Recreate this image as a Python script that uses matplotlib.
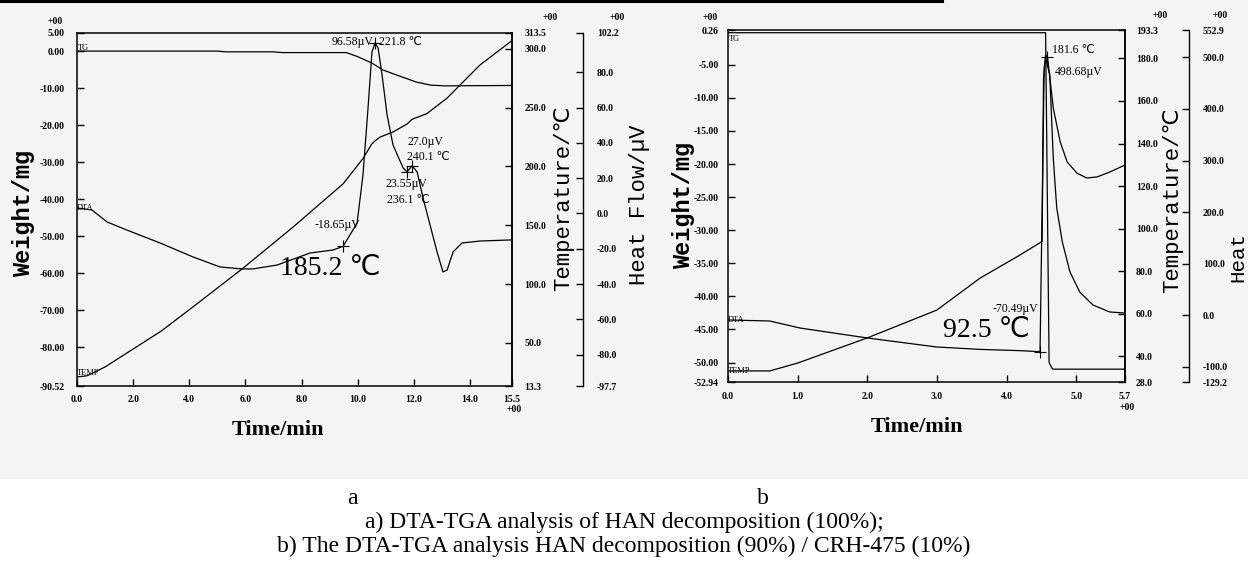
import matplotlib
matplotlib.use("Agg")
import matplotlib.pyplot as plt
from matplotlib.patches import Rectangle
from matplotlib.lines import Line2D

W, H = 1248, 574

# ---------------- panel a : HAN (100%) ----------------
a_time_ticks = [0, 2, 4, 6, 8, 10, 12, 14, 15.5]
a_time_labels = ["0.0", "2.0", "4.0", "6.0", "8.0", "10.0", "12.0", "14.0", "15.5"]
a_weight_ticks = [5, 0, -10, -20, -30, -40, -50, -60, -70, -80, -90.52]
a_weight_labels = ["5.00", "0.00", "-10.00", "-20.00", "-30.00", "-40.00", "-50.00",
                   "-60.00", "-70.00", "-80.00", "-90.52"]
a_temp_ticks = [313.5, 300, 250, 200, 150, 100, 50, 13.3]
a_temp_labels = ["313.5", "300.0", "250.0", "200.0", "150.0", "100.0", "50.0", "13.3"]
a_heat_ticks = [102.2, 80, 60, 40, 20, 0, -20, -40, -60, -80, -97.7]
a_heat_labels = ["102.2", "80.0", "60.0", "40.0", "20.0", "0.0", "-20.0", "-40.0",
                 "-60.0", "-80.0", "-97.7"]

a_tg_t = [0, 5.0, 5.3, 7.0, 7.3, 9.6, 10.0, 10.5, 10.9, 11.4, 12.1, 12.6, 13.1, 15.5]
a_tg_w = [0.1, 0.1, -0.1, -0.1, -0.3, -0.3, -1.4, -3.1, -5.0, -6.4, -8.3, -9.1, -9.3, -9.2]

a_temp_t = [0, 0.36, 1.0, 1.78, 3.0, 4.13, 5.88, 7.70, 9.48, 10.2, 10.5, 10.62, 10.8,
            11.26, 11.76, 11.94, 12.47, 13.19, 13.65, 14.36, 15.43, 15.5]
a_temp_v = [21.0, 22.0, 29.5, 41.4, 60.0, 80.5, 112.8, 148.5, 185.2, 207.0, 219.0, 221.8,
            225.0, 229.3, 236.1, 240.1, 245.0, 258.2, 269.3, 286.3, 305.8, 307.0]

a_dta_t = [0, 0.53, 1.07, 1.78, 2.96, 4.13, 5.10, 5.88, 6.27, 7.13, 8.30, 9.12, 9.48,
           9.98, 10.19, 10.37, 10.51, 10.62, 10.73, 10.87, 11.05, 11.26, 11.62, 11.76,
           11.94, 12.12, 12.33, 12.58, 12.83, 13.04, 13.19, 13.40, 13.72, 14.36, 15.43, 15.5]
a_dta_v = [3.1, 2.0, -4.8, -9.4, -16.7, -24.6, -30.3, -31.4, -31.4, -29.2, -22.4, -20.7,
           -18.65, -5.4, 21.8, 59.7, 91.4, 96.58, 93.7, 78.4, 55.8, 38.8, 25.8, 23.55,
           27.0, 23.5, 8.8, -6.5, -21.8, -33.1, -32.0, -21.8, -16.7, -15.6, -15.0, -15.0]

# ---------------- panel b : HAN (90%) / CRH-475 (10%) ----------------
b_time_ticks = [0, 1, 2, 3, 4, 5, 5.7]
b_time_labels = ["0.0", "1.0", "2.0", "3.0", "4.0", "5.0", "5.7"]
b_weight_ticks = [0.26, -5, -10, -15, -20, -25, -30, -35, -40, -45, -50, -52.94]
b_weight_labels = ["0.26", "-5.00", "-10.00", "-15.00", "-20.00", "-25.00", "-30.00",
                   "-35.00", "-40.00", "-45.00", "-50.00", "-52.94"]
b_temp_ticks = [193.3, 180, 160, 140, 120, 100, 80, 60, 40, 28.0]
b_temp_labels = ["193.3", "180.0", "160.0", "140.0", "120.0", "100.0", "80.0", "60.0",
                 "40.0", "28.0"]
b_heat_ticks = [552.9, 500, 400, 300, 200, 100, 0, -100, -129.2]
b_heat_labels = ["552.9", "500.0", "400.0", "300.0", "200.0", "100.0", "0.0", "-100.0",
                 "-129.2"]

b_tg_t = [0, 4.56, 4.59, 4.61, 4.66, 5.7]
b_tg_w = [-0.15, -0.15, -30.0, -50.0, -51.0, -51.0]

b_temp_t = [0, 0.6, 1.0, 2.0, 3.0, 3.62, 4.19, 4.51, 4.53, 4.56, 4.59, 4.67, 4.77, 4.87,
            5.01, 5.15, 5.30, 5.48, 5.70]
b_temp_v = [33.2, 33.2, 36.9, 48.7, 61.8, 76.8, 87.6, 94.0, 170.0, 181.6, 180.0, 156.7,
            140.7, 131.3, 126.1, 123.8, 124.3, 126.6, 129.9]

b_dta_t = [0, 0.6, 1.03, 2.0, 3.0, 3.62, 4.2, 4.48, 4.52, 4.54, 4.56, 4.62, 4.67, 4.72,
           4.80, 4.91, 5.05, 5.24, 5.48, 5.70]
b_dta_v = [-9.0, -11.0, -24.5, -43.9, -61.4, -66.0, -68.5, -70.49, 300.0, 480.0, 498.68,
           465.8, 304.9, 208.0, 142.1, 84.0, 45.2, 20.0, 6.5, 4.5]

caption_1 = "a) DTA-TGA analysis of HAN decomposition (100%);"
caption_2 = "b) The DTA-TGA analysis HAN decomposition (90%) / CRH-475 (10%)"


def fx(x):
    return x / W


def fy(y):
    return 1 - y / H


tick_font = {"family": "Liberation Serif", "weight": "bold", "size": 7}
note_font = {"family": ["Liberation Serif", "DejaVu Sans"], "size": 8.5}
big_font = {"family": ["Liberation Serif", "DejaVu Sans"], "size": 20}
mono = ["Liberation Mono", "DejaVu Sans"]

fig = plt.figure(figsize=(W / 100, H / 100), dpi=100)
fig.patch.set_facecolor("white")
# greyish scanned area and the black rule across the top
fig.patches.append(Rectangle((0, fy(478)), 1, 1 - fy(478), transform=fig.transFigure,
                             color="#f4f4f4", zorder=-10))
fig.lines.append(Line2D([0, fx(942)], [fy(1.2), fy(1.2)], transform=fig.transFigure,
                        color="black", lw=2.2))


def panel(box, xlim, xt, xl, wlim, wt, wl, tlim, tt, tl, hlim, ht, hl, hpos, pads):
    left, top, right, bottom = box
    ax = fig.add_axes([fx(left), fy(bottom), (right - left) / W, (bottom - top) / H])
    ax.set_facecolor("none")
    for s in ax.spines.values():
        s.set_linewidth(1.1)
    ax.set_xlim(*xlim)
    ax.set_xticks(xt)
    ax.set_xticklabels(xl, **tick_font)
    ax.set_ylim(*wlim)
    ax.set_yticks(wt)
    ax.set_yticklabels(wl, **tick_font)
    ax.tick_params(axis="x", direction="in", length=5, width=1, pad=pads[0])
    ax.tick_params(axis="y", direction="in", length=5, width=1, pad=pads[1])

    tax = ax.twinx()
    tax.set_ylim(*tlim)
    tax.set_yticks(tt)
    tax.set_yticklabels(tl, **tick_font)
    tax.tick_params(axis="y", direction="in", length=5, width=1, pad=pads[2])
    for k in ["left", "top", "bottom"]:
        tax.spines[k].set_visible(False)
    tax.spines["right"].set_linewidth(1.1)

    hax = ax.twinx()
    hax.spines["right"].set_position(("axes", hpos))
    hax.set_ylim(*hlim)
    hax.set_yticks(ht)
    hax.set_yticklabels(hl, **tick_font)
    hax.tick_params(axis="y", direction="in", length=5, width=1, pad=pads[3])
    for k in ["left", "top", "bottom"]:
        hax.spines[k].set_visible(False)
    hax.spines["right"].set_linewidth(1.0)
    return ax, tax, hax


# ---- panel a
ax, tax, hax = panel((77, 33, 512, 386), (0, 15.5), a_time_ticks, a_time_labels,
                     (-90.52, 5), a_weight_ticks, a_weight_labels,
                     (13.3, 313.5), a_temp_ticks, a_temp_labels,
                     (-97.7, 102.2), a_heat_ticks, a_heat_labels,
                     (583 - 77) / (512 - 77), (6.5, 9, 9, 10))
ax.plot(a_tg_t, a_tg_w, color="black", lw=0.9)
tax.plot(a_temp_t, a_temp_v, color="black", lw=0.9)
hax.plot(a_dta_t, a_dta_v, color="black", lw=0.9)
hax.plot([9.48, 10.62, 11.76, 11.94], [-18.65, 96.58, 23.55, 27.0], "k+", ms=8, mew=0.8)

fig.text(fx(374), fy(42), "96.58µV", ha="right", va="center", **note_font)
fig.text(fx(379), fy(42), "221.8 ℃", ha="left", va="center", **note_font)
fig.text(fx(407), fy(142), "27.0µV", ha="left", va="center", **note_font)
fig.text(fx(407), fy(157), "240.1 ℃", ha="left", va="center", **note_font)
fig.text(fx(385), fy(184), "23.55µV", ha="left", va="center", **note_font)
fig.text(fx(387), fy(200), "236.1 ℃", ha="left", va="center", **note_font)
fig.text(fx(315), fy(225), "-18.65µV", ha="left", va="center", **note_font)
fig.text(fx(280), fy(268), "185.2 ℃", ha="left", va="center", **big_font)
fig.text(fx(78), fy(48), "TG", ha="left", va="center", family="Liberation Serif", size=6)
fig.text(fx(77), fy(208), "DTA", ha="left", va="center", family="Liberation Serif", size=6)
fig.text(fx(77), fy(373), "TEMP", ha="left", va="center", family="Liberation Serif", size=6)

fig.text(fx(63), fy(21), "+00", ha="right", va="center", **tick_font)
fig.text(fx(558), fy(18), "+00", ha="right", va="center", **tick_font)
fig.text(fx(625), fy(17), "+00", ha="right", va="center", **tick_font)
fig.text(fx(522), fy(409), "+00", ha="right", va="center", **tick_font)

fig.text(fx(24), fy(213), "Weight/mg", rotation=90, ha="center", va="center",
         family=mono, weight="bold", size=17)
fig.text(fx(564), fy(198), "Temperature/℃", rotation=90, ha="center", va="center",
         family=mono, size=16)
fig.text(fx(639), fy(205), "Heat Flow/µV", rotation=90, ha="center", va="center",
         family=mono, size=16)
fig.text(fx(278), fy(430), "Time/min", ha="center", va="center",
         family="Liberation Serif", weight="bold", size=16)

# ---- panel b
bx, btx, bhx = panel((728, 30, 1125, 382), (0, 5.7), b_time_ticks, b_time_labels,
                     (-52.94, 0.26), b_weight_ticks, b_weight_labels,
                     (28.0, 193.3), b_temp_ticks, b_temp_labels,
                     (-129.2, 552.9), b_heat_ticks, b_heat_labels,
                     (1189 - 728) / (1125 - 728), (7, 6.5, 8, 10))
bx.plot(b_tg_t, b_tg_w, color="black", lw=0.9)
btx.plot(b_temp_t, b_temp_v, color="black", lw=0.9)
bhx.plot(b_dta_t, b_dta_v, color="black", lw=0.9)
bhx.plot([4.48], [-70.49], "k+", ms=8, mew=0.8)
btx.plot([4.58], [180.6], "k+", ms=8, mew=0.8)

fig.text(fx(1052), fy(50), "181.6 ℃", ha="left", va="center", **note_font)
fig.text(fx(1055), fy(72), "498.68µV", ha="left", va="center", **note_font)
fig.text(fx(993), fy(309), "-70.49µV", ha="left", va="center", **note_font)
fig.text(fx(943), fy(330), "92.5 ℃", ha="left", va="center", **big_font)
fig.text(fx(729), fy(39), "TG", ha="left", va="center", family="Liberation Serif", size=6)
fig.text(fx(728), fy(320), "DTA", ha="left", va="center", family="Liberation Serif", size=6)
fig.text(fx(728), fy(371), "TEMP", ha="left", va="center", family="Liberation Serif", size=6)

fig.text(fx(718), fy(17), "+00", ha="right", va="center", **tick_font)
fig.text(fx(1168), fy(15), "+00", ha="right", va="center", **tick_font)
fig.text(fx(1228), fy(15), "+00", ha="right", va="center", **tick_font)
fig.text(fx(1135), fy(407), "+00", ha="right", va="center", **tick_font)

fig.text(fx(684), fy(205), "Weight/mg", rotation=90, ha="center", va="center",
         family=mono, weight="bold", size=17)
fig.text(fx(1173), fy(200), "Temperature/℃", rotation=90, ha="center", va="center",
         family=mono, size=16)
fig.text(fx(1238), fy(282), "Heat", rotation=90, ha="center", va="bottom",
         family=mono, size=15)
fig.text(fx(917), fy(427), "Time/min", ha="center", va="center",
         family="Liberation Serif", weight="bold", size=16)

# ---- caption
cap = {"family": "Liberation Serif", "size": 17}
fig.text(fx(352), fy(499), "a", ha="center", va="center", **cap)
fig.text(fx(763), fy(499), "b", ha="center", va="center", **cap)
fig.text(fx(624), fy(522), caption_1, ha="center", va="center", **cap)
fig.text(fx(624), fy(546), caption_2, ha="center", va="center", **cap)

fig.savefig("out.png", dpi=100)
